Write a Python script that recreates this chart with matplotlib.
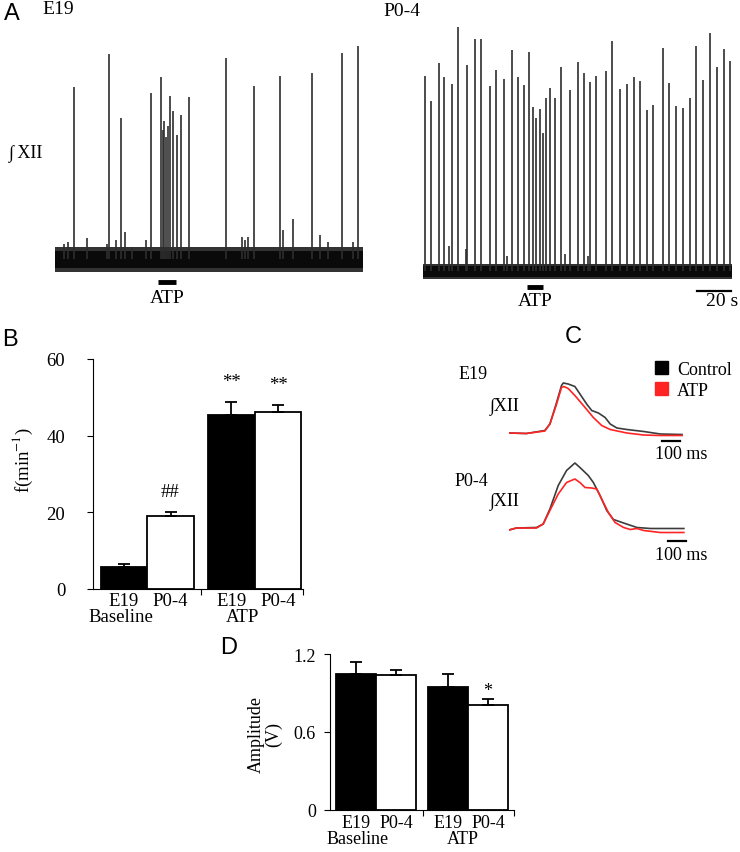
import numpy as np
import matplotlib
matplotlib.use("Agg")
import matplotlib.pyplot as plt
from matplotlib.patches import Patch

plt.rcParams['font.family'] = ['Liberation Serif', 'DejaVu Serif']
plt.rcParams['mathtext.fontset'] = 'stix'
plt.rcParams['font.size'] = 13

# ---- panel A: integrated XII bursts (time s, amplitude a.u.)
e19_t = [5.3, 7.6, 11.2, 18.8, 30.6, 31.8, 35.9, 38.8, 41.2, 45.3, 53.5, 56.5,
         62.3, 63.3, 64.3, 65.1, 66.3, 67.8, 69.6, 71.8, 74.3, 78.8, 100.6,
         110.0, 111.7, 113.5, 117.1, 132.4, 134.1, 140.0, 151.2, 155.8, 160.5,
         168.8, 175.2, 178.2]
e19_amp = [15, 17, 172, 21, 15, 205, 19, 141, 27, 12, 19, 166,
           182, 129, 138, 122, 133, 163, 148, 124, 144, 162, 201,
           22, 19, 22, 173, 183, 29, 40, 186, 24, 17,
           206, 17, 213]
p04_t = [1.2, 4.7, 9.4, 12.4, 15.3, 17.1, 20.6, 25.3, 25.9, 30.6, 34.1, 39.4,
         42.9, 47.6, 49.4, 52.3, 55.9, 59.4, 62.3, 64.7, 66.4, 68.8, 70.6,
         72.3, 74.7, 77.6, 81.2, 83.5, 86.4, 91.1, 94.7, 97.0, 98.2, 101.7,
         107.6, 111.1, 115.8, 120.0, 124.1, 127.6, 131.7, 135.2, 141.1, 144.7,
         148.8, 152.9, 157.0, 160.5, 164.7, 168.8, 172.9, 177.0, 180.5]
p04_amp = [195, 170, 208, 194, 25, 187, 244, 22, 206, 232, 232, 185,
           201, 192, 15, 221, 194, 186, 219, 164, 153, 162, 138,
           173, 183, 173, 204, 17, 181, 209, 198, 15, 189, 195,
           200, 230, 182, 187, 194, 190, 161, 166, 223, 188,
           165, 163, 173, 225, 191, 238, 204, 222, 210]
atp_e19 = (60.6, 71.2)
atp_p04 = (61.2, 70.6)

# ---- panel B: burst frequency
groups = ['E19', 'P0-4', 'E19', 'P0-4']
freq_mean = [5.7, 19.0, 45.4, 46.1]
freq_err = [0.8, 1.1, 3.4, 1.9]
freq_marks = ['', '##', '**', '**']

# ---- panel C: averaged bursts (time ms, amplitude a.u.)
e19_ctrl_t = [0, 96, 198, 226, 263, 290, 300, 327, 364, 392, 429, 457, 494, 531, 559, 596, 651, 744, 836, 956]
e19_ctrl_a = [0, -0.01, 0.05, 0.18, 0.61, 0.95, 1.0, 0.98, 0.93, 0.78, 0.58, 0.45, 0.40, 0.31, 0.18, 0.10, 0.07, 0.03, -0.02, -0.03]
e19_atp_t = [0, 96, 198, 226, 263, 290, 303, 327, 364, 411, 466, 512, 559, 651, 744, 836, 956]
e19_atp_a = [0, -0.01, 0.04, 0.18, 0.58, 0.91, 0.93, 0.89, 0.75, 0.55, 0.31, 0.15, 0.07, 0.0, -0.04, -0.05, -0.05]
p04_ctrl_t = [0, 41, 152, 189, 226, 272, 318, 364, 392, 438, 466, 503, 540, 577, 633, 707, 781, 966]
p04_ctrl_a = [-0.02, 0.02, 0.03, 0.10, 0.40, 0.87, 1.17, 1.32, 1.23, 1.07, 0.93, 0.67, 0.37, 0.19, 0.12, 0.03, 0.01, 0.01]
p04_atp_t = [0, 41, 152, 189, 226, 272, 318, 364, 392, 420, 457, 485, 512, 549, 586, 633, 670, 707, 744, 836, 966]
p04_atp_a = [-0.02, 0.02, 0.02, 0.10, 0.37, 0.70, 0.93, 1.00, 0.93, 0.83, 0.82, 0.80, 0.60, 0.33, 0.13, 0.03, -0.01, 0.01, -0.03, -0.07, -0.07]

# ---- panel D: burst amplitude
amp_mean = [1.046, 1.038, 0.946, 0.808]
amp_err = [0.092, 0.039, 0.10, 0.046]
amp_marks = ['', '', '', '*']

W, H = 740, 853
fig = plt.figure(figsize=(W / 100, H / 100), dpi=100)
red = '#ff2424'


def box(x0, y0, x1, y1):
    return fig.add_axes([x0 / W, 1 - y1 / H, (x1 - x0) / W, (y1 - y0) / H])


def label(x, y, s, **kw):
    kw.setdefault('ha', 'center')
    kw.setdefault('va', 'center')
    fig.text(x / W, 1 - y / H, s, **kw)


def trace(ax, t, amp, T, lo, hi):
    ax.set_xlim(0, T)
    ax.axis('off')
    ax.fill_between([0, T], lo, hi, color='#333333', lw=0)
    ax.fill_between([0, T], lo * 0.7, hi * 0.7, color='#0a0a0a', lw=0)
    ax.vlines(t, 0, amp, color='#2e2e2e', lw=1.2)


# A
ax = box(55, 40, 363, 280)
ax.set_ylim(-20, 220)
trace(ax, e19_t, e19_amp, 181.1, -13, 12)
ax.plot(atp_e19, [-23, -23], color='k', lw=3.5, solid_capstyle='butt', clip_on=False)
ax.text(np.mean(atp_e19), -39, 'ATP', ha='center', va='center', fontsize=14)

ax = box(423, 20, 732, 290)
ax.set_ylim(-18, 252)
trace(ax, p04_t, p04_amp, 181.7, -8, 7)
ax.plot(atp_p04, [-16, -16], color='k', lw=3.5, solid_capstyle='butt', clip_on=False)
ax.text(np.mean(atp_p04), -30, 'ATP', ha='center', va='center', fontsize=14)
ax.plot([161.1, 181.1], [-20, -20], color='k', lw=1.6, clip_on=False)
ax.text(175.8, -30, '20 s', ha='center', va='center', fontsize=14)

label(12, 14, 'A', family='Liberation Sans', fontsize=17)
label(58, 10, 'E19', fontsize=14)
label(402, 11, 'P0-4', fontsize=14)
label(26, 153, '\u222b XII', fontsize=13)


def bars(ax, vals, errs, marks, pos, width, sep, right, mark_off, fs):
    ax.bar(pos, vals, width=width, color=['k', 'w', 'k', 'w'], edgecolor='k', lw=1.3)
    ax.errorbar(pos, vals, yerr=[np.zeros(4), errs], fmt='none', ecolor='k',
                elinewidth=1.3, capsize=4, capthick=1.3)
    for p, v, e, m in zip(pos, vals, errs, marks):
        if m:
            ax.text(p, v + e + mark_off, m, ha='center', va='bottom', fontsize=fs)
    ax.spines[['top', 'right']].set_visible(False)
    ax.set_xticks([sep, right], ['', ''])
    ax.set_xticks(pos, groups, minor=True)
    ax.tick_params(axis='both', which='both', labelsize=fs)
    ax.tick_params(axis='x', which='major', direction='out', length=4)
    ax.tick_params(axis='x', which='minor', length=0, pad=2)


# B
pos = [0, 1, 2.29, 3.29]
ax = box(93, 360, 303, 590)
bars(ax, freq_mean, freq_err, freq_marks, pos, 0.98, 1.65, 3.82, 3.0, 13.5)
ax.set_xlim(-0.65, 3.82)
ax.set_ylim(0, 60)
ax.set_yticks([0, 20, 40, 60])
ax.tick_params(axis='y', length=4, pad=16)
label(121, 617, 'Baseline', fontsize=13.5)
label(243, 617, 'ATP', fontsize=13.5)
label(23, 460, 'f(min$^{-1}$)', rotation=90, fontsize=13.5)
label(10, 340, 'B', family='Liberation Sans', fontsize=17)

# C
ax = box(509, 374, 690, 444)
ax.set_xlim(0, 1000)
ax.set_ylim(-0.2, 1.2)
ax.axis('off')
ax.plot(e19_ctrl_t, e19_ctrl_a, color='#3c3c3c', lw=1.2)
ax.plot(e19_atp_t, e19_atp_a, color=red, lw=1.2)
ax.plot([846, 946], [-0.16, -0.16], color='k', lw=1.6)
ax.text(951, -0.42, '100 ms', ha='center', va='center', clip_on=False)

ax = box(509, 454, 690, 544)
ax.set_xlim(0, 1000)
ax.set_ylim(-0.28, 1.52)
ax.axis('off')
ax.plot(p04_ctrl_t, p04_ctrl_a, color='#3c3c3c', lw=1.2)
ax.plot(p04_atp_t, p04_atp_a, color=red, lw=1.2)
ax.plot([879, 979], [-0.24, -0.24], color='k', lw=1.6, clip_on=False)
ax.text(951, -0.5, '100 ms', ha='center', va='center', clip_on=False)

fig.legend(handles=[Patch(color='k'), Patch(color=red)], labels=['Control', 'ATP'],
           loc='upper left', bbox_to_anchor=(646 / W, 1 - 353 / H), frameon=False,
           borderpad=0, handlelength=0.72, handleheight=0.72, handletextpad=0.5,
           labelspacing=0.2, fontsize=13)
label(573, 337, 'C', family='Liberation Sans', fontsize=17)
label(473, 375, 'E19')
label(505, 406, '\u222bXII')
label(471, 482, 'P0-4')
label(505, 501, '\u222bXII')

# D
pos = [0, 1, 2.3, 3.3]
ax = box(330, 655, 514, 811)
bars(ax, amp_mean, amp_err, amp_marks, pos, 1.0, 1.675, 3.95, 0.0, 13)
ax.set_xlim(-0.65, 3.95)
ax.set_ylim(0, 1.2)
ax.set_yticks([0, 0.6, 1.2], ['0', '0.6', '1.2'])
ax.tick_params(axis='y', length=4, pad=6)
ax.tick_params(axis='x', which='minor', pad=3)
label(358, 840, 'Baseline', fontsize=13)
label(463, 840, 'ATP', fontsize=13)
label(265, 735, 'Amplitude\n(V)', rotation=90, fontsize=13, linespacing=1.0)
label(229, 648, 'D', family='Liberation Sans', fontsize=17)

fig.savefig('out.png', dpi=100)
